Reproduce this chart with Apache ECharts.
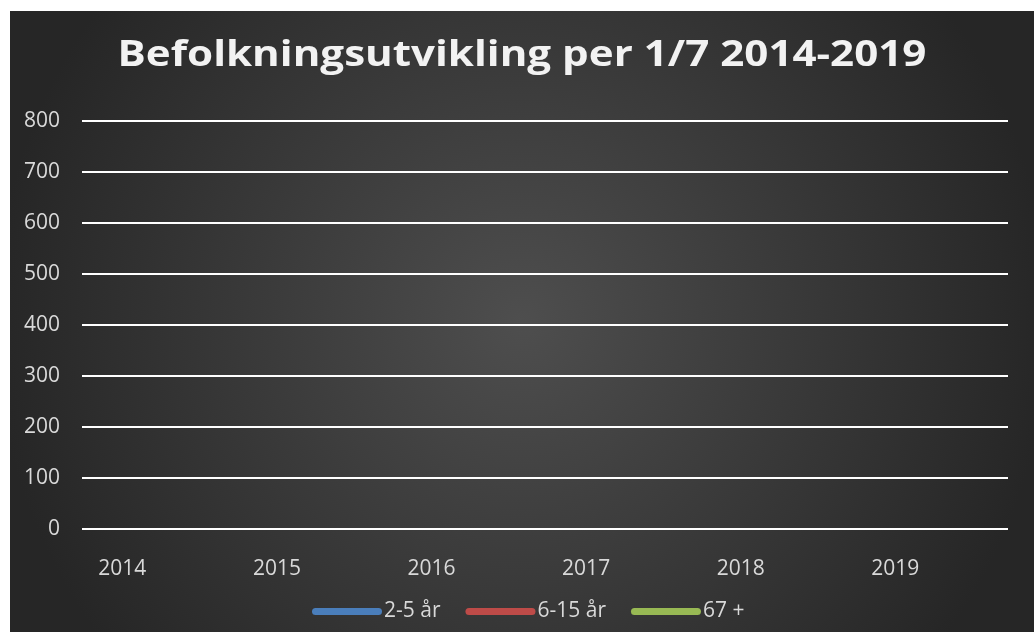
<!DOCTYPE html>
<html>
<head>
<meta charset="utf-8">
<script src="https://cdn.jsdelivr.net/npm/echarts@6/dist/echarts.min.js"></script>
<style>
  html, body { margin: 0; padding: 0; background: #ffffff; }
  #chart { position: absolute; left: 10px; top: 11px; width: 1024px; height: 621px; }
</style>
</head>
<body>
<div id="chart"></div>
<script>
// years on the x axis
const years = ['2014', '2015', '2016', '2017', '2018', '2019'];
// y axis ticks
const yTicks = [0, 100, 200, 300, 400, 500, 600, 700, 800];
// series values (no points are drawn in the reference)
const age2to5 = [null, null, null, null, null, null];
const age6to15 = [null, null, null, null, null, null];
const age67plus = [null, null, null, null, null, null];

const seriesNames = ['2-5 år', '6-15 år', '67 +'];
const seriesColors = ['#4a7ebb', '#be4b48', '#98b954'];
const seriesData = [age2to5, age6to15, age67plus];

const labelColor = '#d9d9d9';
const font = '"Open Sans", "Noto Sans", sans-serif';
const capsule = 'path://M3.5,0 L66.5,0 A3.5,3.5 0 0 1 66.5,7 L3.5,7 A3.5,3.5 0 0 1 3.5,0 Z';

const myChart = echarts.init(document.getElementById('chart'));
const option = {
  backgroundColor: {
    type: 'radial', x: 0.5, y: 0.5, r: 0.85,
    colorStops: [
      { offset: 0, color: '#4e4e4e' },
      { offset: 1, color: '#262626' }
    ]
  },
  // title drawn as graphic text so it can be stretched like the wide-spaced original
  graphic: [{
    type: 'text',
    x: 512,
    y: 27,
    scaleX: 1.17,
    style: {
      text: 'Befolkningsutvikling per 1/7 2014-2019',
      align: 'center',
      verticalAlign: 'top',
      fill: '#f2f2f2',
      font: 'bold 36px ' + font
    }
  }],
  legend: {
    top: 585,
    left: 297,
    itemWidth: 70,
    itemHeight: 7,
    itemGap: 25,
    icon: capsule,
    textStyle: { color: labelColor, fontSize: 21, fontFamily: font, padding: [0, 0, 0, -3] },
    data: seriesNames
  },
  grid: { left: 72, right: 26, top: 110, bottom: 103 },
  xAxis: {
    type: 'value',
    min: 2013.739,
    max: 2019.729,
    axisLine: { show: false },
    axisTick: { show: false },
    splitLine: { show: false },
    axisLabel: {
      customValues: years.map(Number),
      formatter: (v) => String(v),
      color: labelColor,
      fontSize: 21,
      fontFamily: font,
      margin: 30
    }
  },
  yAxis: {
    type: 'value',
    min: yTicks[0],
    max: yTicks[yTicks.length - 1],
    interval: 100,
    axisLine: { show: false },
    axisTick: { show: false },
    splitLine: { lineStyle: { color: '#ffffff', width: 2 } },
    axisLabel: { color: labelColor, fontSize: 21, fontFamily: font, margin: 22 }
  },
  series: seriesNames.map((name, i) => ({
    name: name,
    type: 'line',
    showSymbol: false,
    color: seriesColors[i],
    lineStyle: { width: 3 },
    data: years.map((y, j) => [Number(y), seriesData[i][j]])
  }))
};
option && myChart.setOption(option);
</script>
</body>
</html>
